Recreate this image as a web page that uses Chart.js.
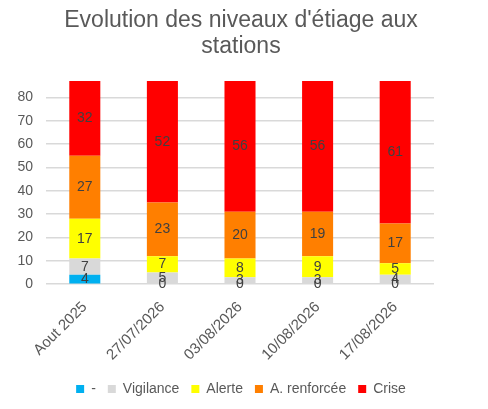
<!DOCTYPE html>
<html>
<head>
<meta charset="utf-8">
<script src="https://cdn.jsdelivr.net/npm/chart.js@4/dist/chart.umd.min.js"></script>
<style>
  html, body { margin: 0; padding: 0; background: #fff; }
  #wrap { width: 488px; height: 409px; }
</style>
</head>
<body>
<div id="wrap"><canvas id="chart"></canvas></div>
<script>
// data
const categories = ['Aout 2025', '27/07/2026', '03/08/2026', '10/08/2026', '17/08/2026'];
const seriesNames = ['-', 'Vigilance', 'Alerte', 'A. renforcée', 'Crise'];
const tiretValues = [4, 0, 0, 0, 0];
const vigilanceValues = [7, 5, 3, 3, 4];
const alerteValues = [17, 7, 8, 9, 5];
const renforceeValues = [27, 23, 20, 19, 17];
const criseValues = [32, 52, 56, 56, 61];
const yTicks = [0, 10, 20, 30, 40, 50, 60, 70, 80];

const colors = ['#00b0f0', '#d9d9d9', '#ffff00', '#ff7f00', '#ff0000'];
const allValues = [tiretValues, vigilanceValues, alerteValues, renforceeValues, criseValues];
const FONT = '"Liberation Sans", Arial, sans-serif';

// simple inline label plugin (no datalabels plugin available)
const barLabels = {
  id: 'barLabels',
  afterDatasetsDraw(chart) {
    const ctx = chart.ctx;
    ctx.save();
    ctx.font = '14px ' + FONT;
    ctx.fillStyle = '#404040';
    ctx.textAlign = 'center';
    ctx.textBaseline = 'middle';
    chart.data.datasets.forEach((ds, i) => {
      const meta = chart.getDatasetMeta(i);
      meta.data.forEach((bar, j) => {
        const y = (bar.y + bar.base) / 2;
        ctx.fillText(String(ds.data[j]), bar.x, y);
      });
    });
    ctx.restore();
  }
};

new Chart(document.getElementById('chart'), {
  type: 'bar',
  data: {
    labels: categories,
    datasets: seriesNames.map((name, i) => ({
      label: name,
      data: allValues[i],
      backgroundColor: colors[i],
      borderWidth: 0,
      categoryPercentage: 1,
      barPercentage: 0.4
    }))
  },
  options: {
    responsive: true,
    maintainAspectRatio: false,
    animation: false,
    layout: { padding: { left: 8, right: 14, top: 0, bottom: 3 } },
    plugins: {
      title: {
        display: true,
        text: ["Evolution des niveaux d'étiage aux", 'stations'],
        color: '#595959',
        font: { family: FONT, size: 23, weight: 'normal', lineHeight: 1.13 },
        padding: { top: 8, bottom: 21 }
      },
      legend: {
        position: 'bottom',
        labels: {
          boxWidth: 8,
          boxHeight: 8,
          color: '#595959',
          font: { family: FONT, size: 14 },
          padding: 12
        }
      },
      tooltip: { enabled: false }
    },
    scales: {
      x: {
        stacked: true,
        grid: { display: false },
        border: { display: false },
        ticks: {
          color: '#595959',
          padding: 6,
          minRotation: 45,
          maxRotation: 45,
          font: { family: FONT, size: 15 }
        },
        // first rotated label may hang out to the left, like the original
        afterFit(scale) { scale.paddingLeft = 0; }
      },
      y: {
        stacked: true,
        min: 0,
        max: 87,
        afterBuildTicks(scale) {
          scale.ticks = yTicks.map(v => ({ value: v }));
        },
        afterFit(scale) { scale.width = 38; },
        grid: { color: '#d9d9d9', lineWidth: 1.5, drawTicks: false },
        border: { display: false },
        ticks: {
          color: '#595959',
          padding: 13,
          font: { family: FONT, size: 14 }
        }
      },
      // empty space on the right, like the original
      spacer: {
        position: 'right',
        display: true,
        grid: { display: false, drawTicks: false },
        border: { display: false },
        ticks: { display: false },
        afterFit(scale) { scale.width = 40; }
      }
    }
  },
  plugins: [barLabels]
});
</script>
</body>
</html>
